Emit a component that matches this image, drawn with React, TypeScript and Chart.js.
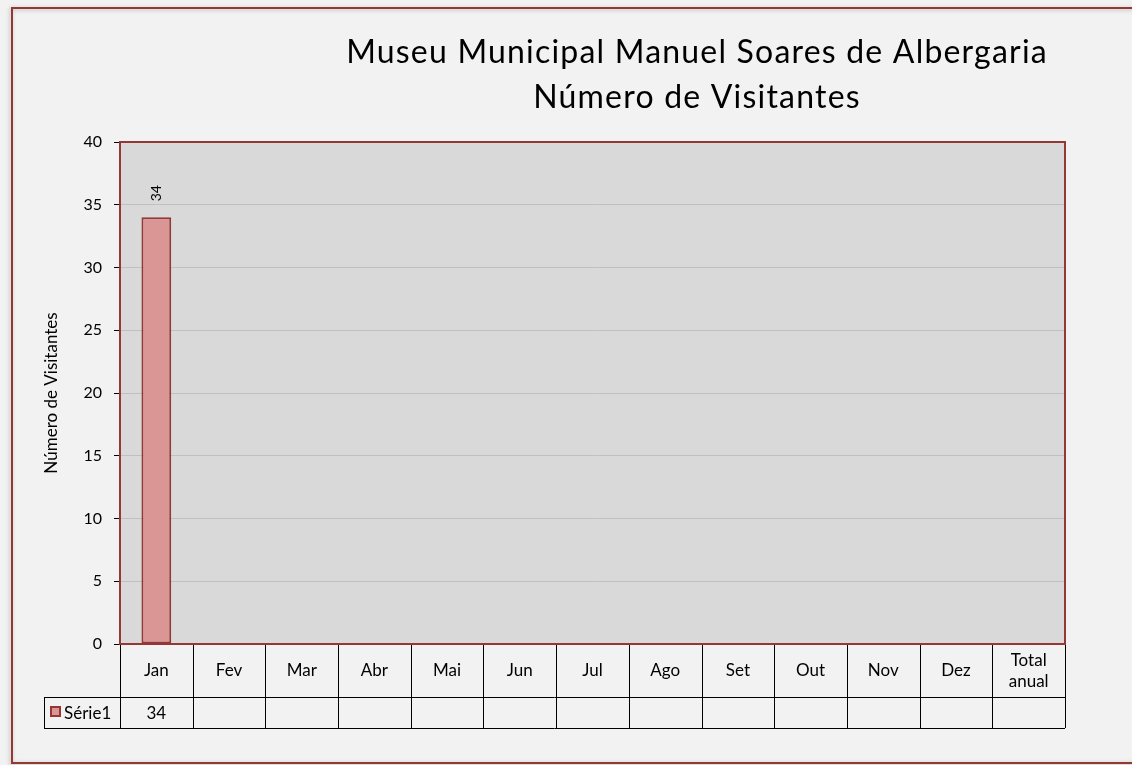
import React, { useEffect, useRef } from "react";
import { Chart, registerables } from "chart.js";

Chart.register(...registerables);

const chartTitleLines = ["Museu Municipal Manuel Soares de Albergaria", "Número de Visitantes"];
const categories: (string | string[])[] = ["Jan", "Fev", "Mar", "Abr", "Mai", "Jun", "Jul", "Ago", "Set", "Out", "Nov", "Dez", ["Total", "anual"]];
const seriesName = "Série1";
const seriesValues: (number | null)[] = [34, null, null, null, null, null, null, null, null, null, null, null, null];
const yAxisTitle = "Número de Visitantes";
const yMin = 0;
const yMax = 40;
const yStep = 5;

const FONT = "Lato, 'Open Sans', sans-serif";
const BG = "#f2f2f2";
const PLOT_BG = "#d9d9d9";
const DARK_RED = "#953735";
const BAR_FILL = "#d99694";

const decorPlugin = {
  id: "decor",
  beforeDraw(chart: any) {
    const { ctx, chartArea: a, width, height } = chart;
    ctx.save();
    ctx.fillStyle = BG;
    ctx.fillRect(0, 0, width, height);
    ctx.shadowColor = "rgba(0,0,0,0.25)";
    ctx.shadowBlur = 4;
    ctx.shadowOffsetX = -1;
    ctx.shadowOffsetY = 1;
    ctx.strokeStyle = DARK_RED;
    ctx.lineWidth = 2;
    ctx.strokeRect(12, 8, width + 20, 755);
    ctx.shadowColor = "transparent";
    ctx.fillStyle = PLOT_BG;
    ctx.fillRect(a.left, a.top, a.right - a.left, a.bottom - a.top);
    ctx.restore();
  },
  afterDatasetsDraw(chart: any) {
    const { ctx } = chart;
    const meta = chart.getDatasetMeta(0);
    ctx.save();
    ctx.fillStyle = "#000";
    ctx.font = `14px ${FONT}`;
    meta.data.forEach((bar: any, i: number) => {
      const v = seriesValues[i];
      if (v === null || v === undefined) return;
      ctx.save();
      ctx.translate(bar.x, bar.y - 16);
      ctx.rotate(-Math.PI / 2);
      ctx.textAlign = "left";
      ctx.textBaseline = "middle";
      ctx.fillText(String(v), 0, 0);
      ctx.restore();
    });
    ctx.restore();
  },
  afterDraw(chart: any) {
    const { ctx, chartArea: a } = chart;
    ctx.save();
    ctx.fillStyle = "#000";
    ctx.font = `32px ${FONT}`;
    (ctx as any).letterSpacing = "1.2px";
    ctx.textAlign = "center";
    ctx.textBaseline = "middle";
    ctx.fillText(chartTitleLines[0], 697, 53);
    ctx.fillText(chartTitleLines[1], 697, 98);
    (ctx as any).letterSpacing = "0px";

    const n = categories.length;
    const cw = (a.right - a.left) / n;
    const row1Bottom = 697;
    const row2Bottom = 728;
    const legendLeft = 44;
    ctx.strokeStyle = "#000";
    ctx.lineWidth = 1;
    ctx.beginPath();
    ctx.moveTo(a.left, a.bottom + 0.5);
    ctx.lineTo(a.right, a.bottom + 0.5);
    ctx.moveTo(legendLeft, row1Bottom + 0.5);
    ctx.lineTo(a.right, row1Bottom + 0.5);
    ctx.moveTo(legendLeft, row2Bottom + 0.5);
    ctx.lineTo(a.right, row2Bottom + 0.5);
    ctx.moveTo(legendLeft + 0.5, row1Bottom);
    ctx.lineTo(legendLeft + 0.5, row2Bottom);
    for (let i = 0; i <= n; i++) {
      const x = Math.round(a.left + i * cw) + 0.5;
      ctx.moveTo(x, a.bottom);
      ctx.lineTo(x, row2Bottom);
    }
    ctx.stroke();

    ctx.font = `17px ${FONT}`;
    ctx.textAlign = "center";
    ctx.textBaseline = "middle";
    const r1c = (a.bottom + row1Bottom) / 2;
    const r2c = (row1Bottom + row2Bottom) / 2;
    categories.forEach((c, i) => {
      const cx = a.left + (i + 0.5) * cw;
      if (Array.isArray(c)) {
        ctx.fillText(c[0], cx, r1c - 10);
        ctx.fillText(c[1], cx, r1c + 11);
      } else {
        ctx.fillText(c, cx, r1c);
      }
      const v = seriesValues[i];
      if (v !== null && v !== undefined) ctx.fillText(String(v), cx, r2c + 1);
    });
    ctx.fillStyle = BAR_FILL;
    ctx.fillRect(51, 707, 9, 9);
    ctx.strokeStyle = DARK_RED;
    ctx.lineWidth = 2;
    ctx.strokeRect(51, 707, 9, 9);
    ctx.fillStyle = "#000";
    ctx.textAlign = "left";
    ctx.fillText(seriesName, 64, r2c + 1);

    ctx.strokeStyle = DARK_RED;
    ctx.lineWidth = 2;
    ctx.strokeRect(a.left, a.top, a.right - a.left, a.bottom - a.top);
    ctx.restore();
  },
};

export default function App() {
  const ref = useRef<HTMLCanvasElement | null>(null);
  useEffect(() => {
    if (!ref.current) return;
    const chart = new Chart(ref.current, {
      type: "bar",
      data: {
        labels: categories as any,
        datasets: [
          {
            label: seriesName,
            data: seriesValues as any,
            backgroundColor: BAR_FILL,
            borderColor: DARK_RED,
            borderWidth: 2,
            borderSkipped: false,
            categoryPercentage: 1,
            barPercentage: 0.41,
          },
        ],
      },
      options: {
        animation: false,
        responsive: false,
        devicePixelRatio: 1,
        layout: { padding: { left: 12, top: 142, right: 67, bottom: 121 } },
        plugins: { legend: { display: false }, title: { display: false }, tooltip: { enabled: false } },
        scales: {
          x: { display: false },
          y: {
            min: yMin,
            max: yMax,
            ticks: { stepSize: yStep, color: "#000", font: { family: FONT, size: 16 }, padding: 12 },
            grid: { color: "#c0c0c0", lineWidth: 1, tickLength: 6, tickColor: "#000", drawTicks: true },
            border: { display: false },
            title: {
              display: true,
              text: yAxisTitle,
              color: "#000",
              font: { family: FONT, size: 17 },
              padding: { top: 29, bottom: 0 },
            },
            afterFit: (scale: any) => {
              scale.width = 108;
            },
          },
        },
      },
      plugins: [decorPlugin],
    });
    return () => chart.destroy();
  }, []);
  return (
    <div style={{ position: "absolute", left: 0, top: 0, width: 1132, height: 765 }}>
      <canvas ref={ref} width={1132} height={765} style={{ display: "block", width: 1132, height: 765 }} />
    </div>
  );
}
